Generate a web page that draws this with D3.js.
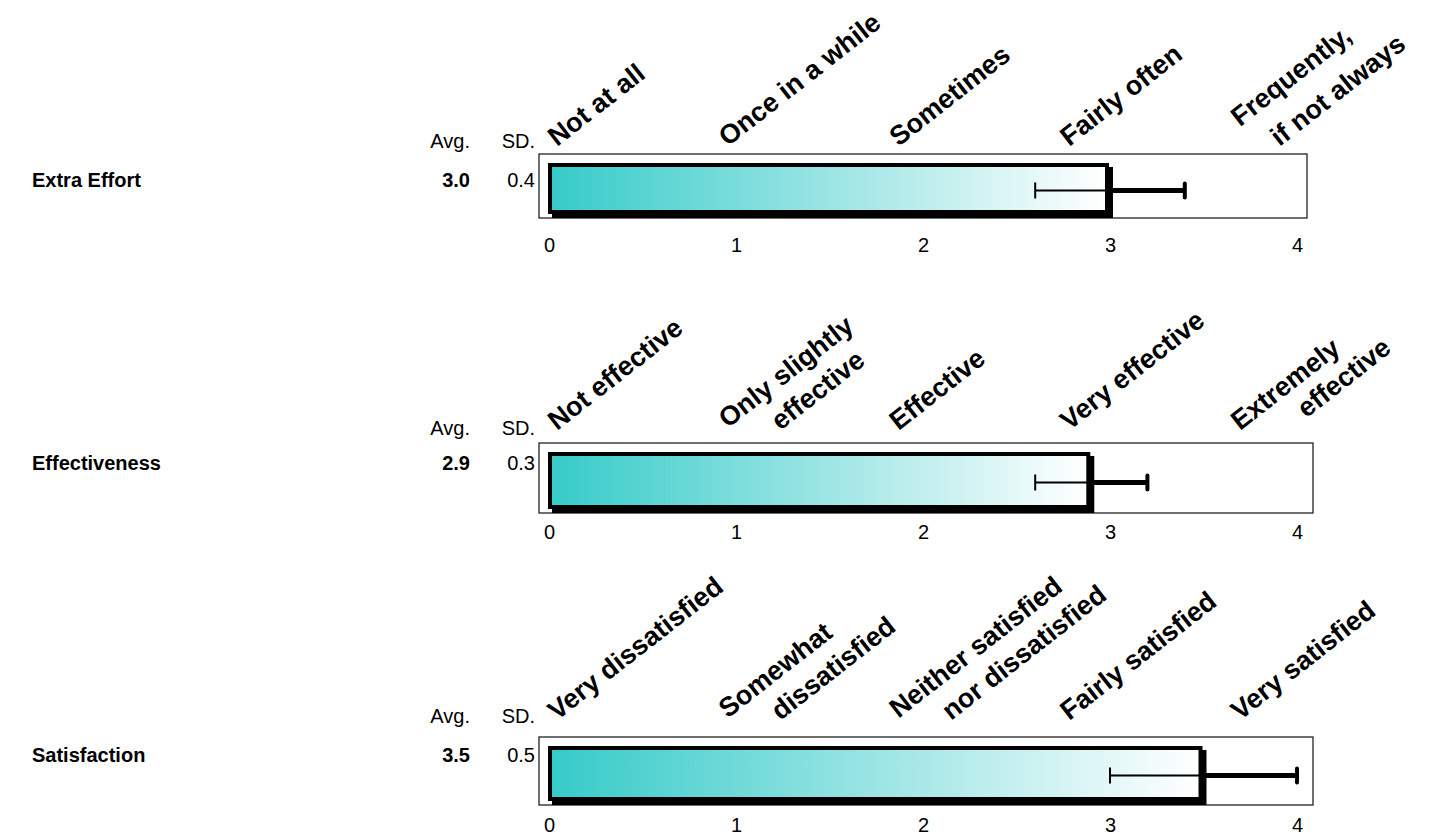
<!DOCTYPE html>
<html>
<head>
<meta charset="utf-8">
<script src="https://cdn.jsdelivr.net/npm/d3@7"></script>
<style>
  html, body { margin: 0; padding: 0; background: #fff; }
  svg { display: block; font-family: Arial, "Liberation Sans", sans-serif; }
</style>
</head>
<body>
<div id="chart"></div>
<script>
// ---- data ----
const measures = ['Extra Effort', 'Effectiveness', 'Satisfaction'];
const averages = [3.0, 2.9, 3.5];
const deviations = [0.4, 0.3, 0.5];
const tickValues = [0, 1, 2, 3, 4];
const scaleLabels = [
  ['Not at all', 'Once in a while', 'Sometimes', 'Fairly often', 'Frequently,\nif not always'],
  ['Not effective', 'Only slightly\neffective', 'Effective', 'Very effective', 'Extremely\neffective'],
  ['Very dissatisfied', 'Somewhat\ndissatisfied', 'Neither satisfied\nnor dissatisfied', 'Fairly satisfied', 'Very satisfied']
];

// ---- layout ----
const width = 1434, height = 836;
const boxLeft = 539;
const angle = 38;
const panels = [
  { top: 154, height: 64, right: 1307, head: 148, row: 187, cat: 147, tick: 245 },
  { top: 443, height: 70, right: 1313, head: 435, row: 470, cat: 431, tick: 532 },
  { top: 737, height: 68, right: 1313, head: 723, row: 762, cat: 721, tick: 825 }
];
// second-line placement of wrapped anchors: [indent along text, line step]
const wrapStep = { default: [40, 34], 'Frequently,': [19, 40], 'Extremely': [60, 31] };

const svg = d3.select('#chart').append('svg')
  .attr('width', width)
  .attr('height', height);

const grad = svg.append('defs').append('linearGradient')
  .attr('id', 'barFill')
  .attr('x1', '0%').attr('x2', '100%')
  .attr('y1', '0%').attr('y2', '0%');
grad.append('stop').attr('offset', '0%').attr('stop-color', '#36cbc9');
grad.append('stop').attr('offset', '100%').attr('stop-color', '#ffffff');

const x = d3.scaleLinear().domain([0, 4]).range([549, 1297]);
const cat = d3.scalePoint().domain(d3.range(5)).range([557, 1240]);

const rad = angle * Math.PI / 180;

measures.forEach((name, i) => {
  const p = panels[i];
  const g = svg.append('g');
  const mean = averages[i];
  const sd = deviations[i];
  const boxBottom = p.top + p.height;
  const barTop = p.top + 9;
  const barBottom = boxBottom - 4;
  const cy = (barTop + boxBottom) / 2;

  // row label + stats
  g.append('text')
    .attr('x', 32).attr('y', p.row)
    .attr('font-size', 20).attr('font-weight', 'bold')
    .text(name);

  g.append('text')
    .attr('x', 470).attr('y', p.head)
    .attr('text-anchor', 'end').attr('font-size', 20)
    .text('Avg.');
  g.append('text')
    .attr('x', 535).attr('y', p.head)
    .attr('text-anchor', 'end').attr('font-size', 20)
    .text('SD.');
  g.append('text')
    .attr('x', 470).attr('y', p.row)
    .attr('text-anchor', 'end').attr('font-size', 20).attr('font-weight', 'bold')
    .text(mean.toFixed(1));
  g.append('text')
    .attr('x', 535).attr('y', p.row)
    .attr('text-anchor', 'end').attr('font-size', 20)
    .text(sd.toFixed(1));

  // frame
  g.append('rect')
    .attr('x', boxLeft).attr('y', p.top)
    .attr('width', p.right - boxLeft).attr('height', p.height)
    .attr('fill', 'none').attr('stroke', '#222').attr('stroke-width', 1.3);

  // bar: shadow, black border, gradient
  g.append('rect')
    .attr('x', x(0) + 3).attr('y', barTop + 4)
    .attr('width', x(mean) - x(0)).attr('height', barBottom - barTop)
    .attr('fill', '#000');
  g.append('rect')
    .attr('x', x(0) - 1).attr('y', barTop)
    .attr('width', x(mean) - x(0)).attr('height', barBottom - barTop)
    .attr('fill', '#000');
  g.append('rect')
    .attr('x', x(0) + 3).attr('y', barTop + 4)
    .attr('width', x(mean) - x(0) - 8).attr('height', barBottom - barTop - 8)
    .attr('fill', 'url(#barFill)');

  // error bar: thin inside the bar, thick outside
  g.append('line')
    .attr('x1', x(mean - sd)).attr('x2', x(mean))
    .attr('y1', cy).attr('y2', cy)
    .attr('stroke', '#000').attr('stroke-width', 2);
  g.append('line')
    .attr('x1', x(mean - sd)).attr('x2', x(mean - sd))
    .attr('y1', cy - 8).attr('y2', cy + 8)
    .attr('stroke', '#000').attr('stroke-width', 2);
  g.append('line')
    .attr('x1', x(mean)).attr('x2', x(mean + sd))
    .attr('y1', cy).attr('y2', cy)
    .attr('stroke', '#000').attr('stroke-width', 5);
  g.append('line')
    .attr('x1', x(mean + sd)).attr('x2', x(mean + sd))
    .attr('y1', cy - 7).attr('y2', cy + 7)
    .attr('stroke', '#000').attr('stroke-width', 4)
    .attr('stroke-linecap', 'round');

  // numeric axis
  const axis = g.append('g')
    .attr('transform', `translate(0,${p.tick - 10})`)
    .call(d3.axisBottom(x).tickValues(tickValues).tickSize(0).tickPadding(3).tickFormat(d3.format('d')));
  axis.select('.domain').remove();
  axis.selectAll('text')
    .attr('font-size', 20)
    .attr('font-family', 'Arial, "Liberation Sans", sans-serif')
    .attr('fill', '#000');

  // rotated scale anchors; the lowest line start sits on the baseline
  scaleLabels[i].forEach((label, j) => {
    const lines = label.split('\n');
    const [indent, step] = wrapStep[lines[0]] || wrapStep.default;
    const screenDy = lines.map((_, k) => -k * indent * Math.sin(rad) + k * step * Math.cos(rad));
    const lift = d3.max(screenDy);
    const lg = g.append('g')
      .attr('transform', `translate(${cat(j)},${p.cat - lift}) rotate(${-angle})`);
    lines.forEach((line, k) => {
      lg.append('text')
        .attr('x', k * indent).attr('y', k * step)
        .attr('font-size', 27).attr('font-weight', 'bold')
        .text(line);
    });
  });
});
</script>
</body>
</html>
